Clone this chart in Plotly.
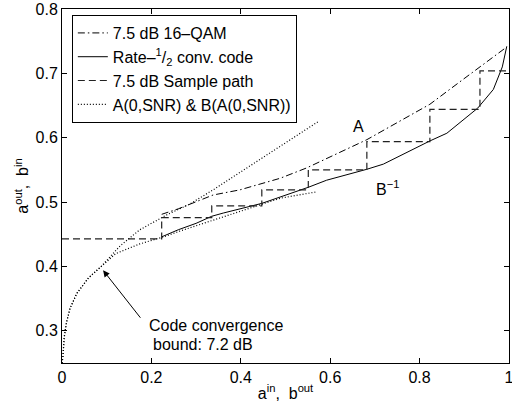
import plotly.graph_objects as go

# ---- data ----
qam_x = [0.223, 0.26, 0.338, 0.398, 0.488, 0.547, 0.682, 0.823, 0.898, 0.995]
qam_y = [0.481, 0.4895, 0.511, 0.519, 0.537, 0.553, 0.597, 0.652, 0.691, 0.741]

code_x = [0.223, 0.26, 0.30, 0.335, 0.361, 0.447, 0.551, 0.592, 0.682, 0.719,
          0.823, 0.861, 0.930, 0.965, 0.985, 0.995]
code_y = [0.446, 0.457, 0.467, 0.478, 0.483, 0.498, 0.523, 0.534, 0.551, 0.559,
          0.595, 0.607, 0.646, 0.675, 0.71, 0.742]

path_x = [0.0, 0.223, 0.223, 0.335, 0.335, 0.447, 0.447, 0.551, 0.551,
          0.682, 0.682, 0.823, 0.823, 0.935, 0.935, 0.998]
path_y = [0.443, 0.443, 0.476, 0.476, 0.494, 0.494, 0.519, 0.519, 0.55,
          0.55, 0.594, 0.594, 0.644, 0.644, 0.704, 0.704]

a0_x = [0.0, 0.002, 0.005, 0.01, 0.018, 0.033, 0.059, 0.089, 0.13, 0.174,
        0.234, 0.286, 0.338, 0.413, 0.488, 0.573]
a0_y = [0.25, 0.259, 0.29, 0.313, 0.335, 0.358, 0.382, 0.401, 0.432, 0.457,
        0.480, 0.497, 0.519, 0.553, 0.586, 0.625]

ba0_x = [0.0, 0.002, 0.005, 0.01, 0.018, 0.033, 0.059, 0.089, 0.12, 0.174,
         0.227, 0.264, 0.338, 0.413, 0.488, 0.57]
ba0_y = [0.25, 0.259, 0.29, 0.313, 0.335, 0.358, 0.382, 0.401, 0.42, 0.435,
         0.446, 0.455, 0.472, 0.490, 0.506, 0.516]

x_ticks = [0, 0.2, 0.4, 0.6, 0.8, 1]
y_ticks = [0.3, 0.4, 0.5, 0.6, 0.7, 0.8]

FONT = "Liberation Sans, Arial, Helvetica, sans-serif"
FS = 16

fig = go.Figure()
fig.add_trace(go.Scatter(x=qam_x, y=qam_y, mode="lines", name="7.5 dB 16–QAM",
                         line=dict(color="black", width=1, dash="7px,3px,1.5px,3px")))
fig.add_trace(go.Scatter(x=code_x, y=code_y, mode="lines",
                         name="Rate–<sup>1</sup>/<sub>2</sub> conv. code",
                         line=dict(color="black", width=1)))
fig.add_trace(go.Scatter(x=path_x, y=path_y, mode="lines", name="7.5 dB Sample path",
                         line=dict(color="#222222", width=1.2, dash="7px,4px")))
fig.add_trace(go.Scatter(x=a0_x, y=a0_y, mode="lines", name="A(0,SNR) & B(A(0,SNR))",
                         legendgroup="dot",
                         line=dict(color="black", width=1.2, dash="1px,2px")))
fig.add_trace(go.Scatter(x=ba0_x, y=ba0_y, mode="lines", showlegend=False,
                         legendgroup="dot",
                         line=dict(color="black", width=1.2, dash="1px,2px")))

fig.add_annotation(x=0.664, y=0.618, text="A", showarrow=False,
                   font=dict(size=FS, color="black", family=FONT))
fig.add_annotation(x=0.729, y=0.522, text="B<sup>−1</sup>", showarrow=False,
                   font=dict(size=FS, color="black", family=FONT))
fig.add_annotation(x=0.092, y=0.394, ax=0.178, ay=0.318, axref="x", ayref="y",
                   text="", showarrow=True, arrowhead=2, arrowsize=1.3,
                   arrowwidth=1, arrowcolor="black")
fig.add_annotation(x=0.19, y=0.308, text="Code convergence", showarrow=False,
                   xanchor="left", font=dict(size=FS, color="black", family=FONT))
fig.add_annotation(x=0.2, y=0.278, text="bound: 7.2 dB", showarrow=False,
                   xanchor="left", font=dict(size=FS, color="black", family=FONT))

axis_common = dict(showline=True, linecolor="black", linewidth=1, mirror="ticks",
                   ticks="inside", ticklen=5, tickcolor="black", showgrid=False,
                   zeroline=False, automargin=False, ticklabeloverflow="allow",
                   tickfont=dict(size=FS, color="black", family=FONT))

fig.update_xaxes(range=[0, 1], tickvals=x_ticks, ticktext=[f"{v:g}" for v in x_ticks],
                 title=dict(text="a<sup>in</sup>,  b<sup>out</sup>", standoff=2,
                            font=dict(size=FS, color="black", family=FONT)),
                 **axis_common)
fig.update_yaxes(range=[0.25, 0.8], tickvals=y_ticks, ticktext=[f"{v:.1f}" for v in y_ticks],
                 title=dict(text="a<sup>out</sup>,  b<sup>in</sup>", standoff=2,
                            font=dict(size=FS, color="black", family=FONT)),
                 **axis_common)

fig.update_layout(
    width=512, height=407, autosize=False,
    margin=dict(l=62, r=3, t=9, b=44),
    plot_bgcolor="white", paper_bgcolor="white",
    font=dict(family=FONT, size=FS, color="black"),
    legend=dict(x=0.022, y=0.983, xanchor="left", yanchor="top",
                bgcolor="white", bordercolor="black", borderwidth=1,
                font=dict(size=16, color="black", family=FONT),
                tracegroupgap=0, itemwidth=30),
    showlegend=True,
)

# remove the browser's default 8px body margin so the figure fills the window
fig.write_html("out.html",
               config={"displayModeBar": False},
               post_script="document.body.style.margin='0px';"
                           "document.body.style.overflow='hidden';")
